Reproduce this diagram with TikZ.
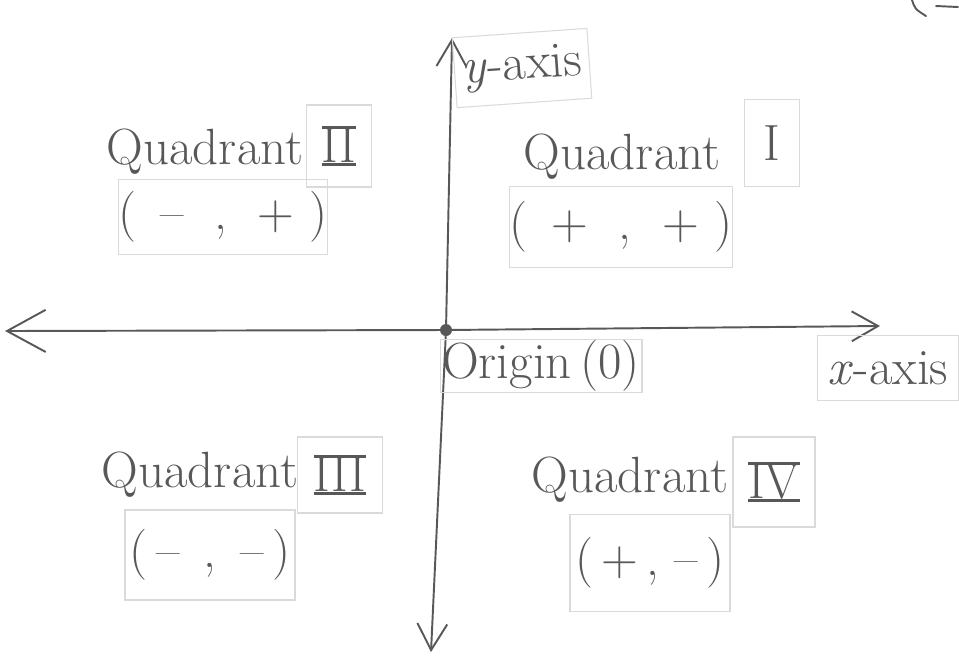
\documentclass[tikz,border=0pt]{standalone}
\usepackage{tikz}
\usetikzlibrary{arrows.meta,positioning}

\definecolor{pencil}{HTML}{585858}
\definecolor{patch}{HTML}{DADADA}
% roman numeral with a bar on top and below
\newcommand{\romanbar}[1]{\setbox0\hbox{#1}\rlap{\rule[-1.5pt]{\wd0}{1.3pt}}\rlap{\rule[\dimexpr\ht0-0.3pt]{\wd0}{1.3pt}}\box0}

\begin{document}
\begin{tikzpicture}[x=0.02cm, y=-0.02cm,
    pen/.style={draw=pencil, line width=1.1pt, line cap=round, line join=round},
    barb/.style={-{Straight Barb[length=15pt,width=17pt,line width=1.1pt]}},
    bigbarb/.style={-{Straight Barb[length=22pt,width=24pt,line width=1.1pt]}},
    txt/.style={text=pencil, font=\fontsize{29}{31}\selectfont},
    patchbox/.style={draw=patch, line width=0.6pt, inner sep=0pt}]
  \useasboundingbox (0,0) rectangle (959,657);

  % axes
  \node[circle, fill=pencil, inner sep=0pt, minimum size=0.24cm] (origin) at (446,330) {};
  \coordinate (xleft) at (5,331);
  \coordinate (xright) at (880,326);
  \coordinate (ytop) at (452,38);
  \coordinate (ybot) at (431,652);
  \draw[pen, bigbarb] (origin) -- (xleft);
  \draw[pen, barb] (origin) -- (xright);
  \draw[pen, barb] (origin) -- (ytop);
  \draw[pen, barb] (origin) -- (ybot);

  % axis labels
  \node[txt, patchbox, minimum width=2.7cm, minimum height=1.4cm, rotate=4] (ylabel) at (522,68) {\textit{y}-axis};
  \node[txt, patchbox, minimum width=2.82cm, minimum height=1.3cm] (xlabel) at (888,368) {\textit{x}-axis};
  \node[txt, patchbox, minimum width=4.04cm, minimum height=1.06cm] (originlabel) at (541,366) {Origin\,(0)};

  % Quadrant I
  \node[txt] (quadI) at (622,157) {Quadrant};
  \node[txt, patchbox, minimum width=1.1cm, minimum height=1.74cm] (numI) at (772,143) {I};
  \node[txt, patchbox, minimum width=4.16cm, minimum height=1.62cm] (signI) at (621,227) {(\ \,+\ \ ,\ \ +\ )};

  % Quadrant II
  \node[txt] (quadII) at (205,152) {Quadrant};
  \node[txt, patchbox, minimum width=1.3cm, minimum height=1.64cm] (numII) at (339,146) {\romanbar{II}};
  \node[txt, patchbox, minimum width=3.66cm, minimum height=1.5cm] (signII) at (223,217) {(\ \,–\ \ ,\ \ +\ )};

  % Quadrant III
  \node[txt] (quadIII) at (200,475) {Quadrant};
  \node[txt, patchbox, minimum width=1.7cm, minimum height=1.52cm] (numIII) at (340,475) {\romanbar{III}};
  \node[txt, patchbox, minimum width=3.4cm, minimum height=1.8cm] (signIII) at (210,555) {(\,–\ \,,\ \,–\,)};

  % Quadrant IV
  \node[txt] (quadIV) at (630,480) {Quadrant};
  \node[txt, patchbox, minimum width=1.64cm, minimum height=1.8cm] (numIV) at (774,482) {\romanbar{IV}};
  \node[txt, patchbox, minimum width=3.2cm, minimum height=1.94cm] (signIV) at (650,563) {(\,+\,,\ –\,)};

  % cut-off stroke at the top right
  \draw[pen] (912,0) .. controls (915,9) .. (926,16);
  \draw[pen] (936,6) -- (958,7);
\end{tikzpicture}
\end{document}
